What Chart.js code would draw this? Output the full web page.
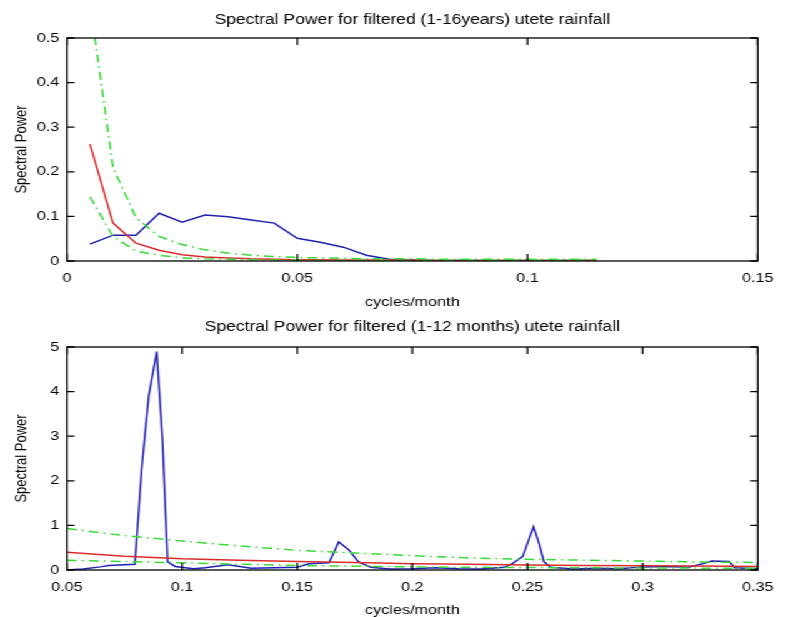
<!DOCTYPE html>
<html>
<head>
<meta charset="utf-8">
<script src="https://cdn.jsdelivr.net/npm/chart.js@4/dist/chart.umd.min.js"></script>
<style>
  html, body { margin: 0; padding: 0; background: #fff; }
  #stage {
    position: absolute; left: 0; top: 0;
    width: 629px; height: 617px;
    transform: scaleX(1.2496); transform-origin: 0 0;
  }
  #stage canvas { position: absolute; left: 0; }
  #topPlot { top: 0; }
  #bottomPlot { top: 300px; }
</style>
</head>
<body>
<div id="stage">
  <canvas id="topPlot" width="629" height="320"></canvas>
  <canvas id="bottomPlot" width="629" height="317"></canvas>
</div>
<script>
// ---- Upper panel: low-frequency band (1-16 years) ----
const topFreq = [0.005, 0.01, 0.015, 0.02, 0.025, 0.03, 0.035, 0.04, 0.045, 0.05,
                 0.055, 0.06, 0.065, 0.07, 0.075, 0.08, 0.085, 0.09, 0.095, 0.1,
                 0.105, 0.11, 0.115];
const topSpectrum = [0.038, 0.058, 0.058, 0.107, 0.087, 0.103, 0.099, 0.092, 0.085, 0.051,
                     0.042, 0.031, 0.013, 0.004, 0.002, 0.001, 0.001, 0.001, 0.001, 0.001,
                     0.001, 0.001, 0.001];
const topRedNoise = [0.262, 0.085, 0.040, 0.024, 0.014, 0.009, 0.007, 0.005, 0.004, 0.003,
                     0.003, 0.002, 0.002, 0.002, 0.002, 0.001, 0.001, 0.001, 0.001, 0.001,
                     0.001, 0.001, 0.001];
const topUpperBound = [0.58, 0.21, 0.097, 0.055, 0.037, 0.025, 0.018, 0.013, 0.010, 0.008,
                       0.007, 0.006, 0.005, 0.005, 0.005, 0.004, 0.004, 0.004, 0.004, 0.004,
                       0.004, 0.004, 0.004];
const topLowerBound = [0.144, 0.055, 0.022, 0.013, 0.007, 0.005, 0.004, 0.003, 0.002, 0.002,
                       0.001, 0.001, 0.001, 0.001, 0.001, 0.001, 0.001, 0.001, 0.001, 0.001,
                       0.001, 0.001, 0.001];
const topXTickLabels = ['0', '0.05', '0.1', '0.15'];
const topYTickLabels = ['0', '0.1', '0.2', '0.3', '0.4', '0.5'];

// ---- Lower panel: intra-annual band (1-12 months) ----
const bottomSpecFreq = [0.05, 0.057, 0.0645, 0.068, 0.0795, 0.0825, 0.0855, 0.089, 0.0915, 0.0937,
                        0.097, 0.105, 0.11, 0.12, 0.13, 0.14, 0.15, 0.155, 0.1638, 0.168,
                        0.1724, 0.1766, 0.182, 0.19, 0.2, 0.21, 0.22, 0.23, 0.24, 0.2436,
                        0.2479, 0.2526, 0.255, 0.2571, 0.26, 0.27, 0.28, 0.29, 0.3, 0.31,
                        0.32, 0.3276, 0.33, 0.3376, 0.34, 0.35];
const bottomSpectrum = [0.0, 0.02, 0.07, 0.10, 0.13, 2.3, 3.9, 4.9, 2.9, 0.18,
                        0.08, 0.03, 0.05, 0.12, 0.04, 0.05, 0.06, 0.14, 0.16, 0.63,
                        0.45, 0.18, 0.06, 0.02, 0.03, 0.05, 0.03, 0.02, 0.06, 0.15,
                        0.30, 0.97, 0.60, 0.19, 0.06, 0.02, 0.04, 0.03, 0.07, 0.08,
                        0.06, 0.16, 0.20, 0.19, 0.05, 0.03];
const bottomRefFreq = [0.05, 0.075, 0.1, 0.125, 0.15, 0.175, 0.2, 0.225, 0.25, 0.275, 0.3, 0.325, 0.35];
const bottomRedNoise = [0.40, 0.31, 0.25, 0.22, 0.19, 0.17, 0.14, 0.13, 0.11, 0.10, 0.095, 0.09, 0.08];
const bottomUpperBound = [0.93, 0.77, 0.65, 0.54, 0.44, 0.38, 0.32, 0.27, 0.24, 0.22, 0.20, 0.18, 0.17];
const bottomLowerBound = [0.22, 0.19, 0.16, 0.13, 0.10, 0.085, 0.07, 0.06, 0.055, 0.05, 0.045, 0.042, 0.04];
const bottomXTickLabels = ['0.05', '0.1', '0.15', '0.2', '0.25', '0.3', '0.35'];
const bottomYTickLabels = ['0', '1', '2', '3', '4', '5'];

const BLUE = '#2020b4';
const RED = '#d82c2c';
const GREEN = '#38da38';
const DASH_DOT = [8, 4, 1.5, 4];

Chart.defaults.font.family = '"Liberation Sans", Arial, Helvetica, sans-serif';
Chart.defaults.font.size = 13;
Chart.defaults.color = '#000';

const pairs = (xs, ys) => xs.map((x, i) => ({ x, y: ys[i] }));

function series(xs, ys, color, dashed, order) {
  return {
    data: pairs(xs, ys),
    borderColor: color,
    borderWidth: 1.5,
    borderDash: dashed ? DASH_DOT : [],
    pointRadius: 0,
    tension: 0,
    fill: false,
    order
  };
}

// MATLAB-style closed axes box with inward tick marks on all four sides
const axesBox = {
  id: 'axesBox',
  afterDatasetsDraw(chart) {
    const { ctx, chartArea: a, scales: { x, y } } = chart;
    ctx.save();
    ctx.strokeStyle = '#000';
    ctx.lineWidth = 1.3;
    ctx.strokeRect(a.left, a.top, a.width, a.height);
    ctx.beginPath();
    x.ticks.forEach(t => {
      const px = x.getPixelForValue(t.value);
      ctx.moveTo(px, a.bottom); ctx.lineTo(px, a.bottom - 7);
      ctx.moveTo(px, a.top); ctx.lineTo(px, a.top + 7);
    });
    y.ticks.forEach(t => {
      const py = y.getPixelForValue(t.value);
      ctx.moveTo(a.left, py); ctx.lineTo(a.left + 6, py);
      ctx.moveTo(a.right, py); ctx.lineTo(a.right - 6, py);
    });
    ctx.stroke();
    ctx.restore();
  }
};

function makePanel(canvasId, cfg) {
  return new Chart(document.getElementById(canvasId), {
    type: 'line',
    data: { datasets: cfg.datasets },
    options: {
      responsive: false,
      animation: false,
      events: [],
      layout: { padding: { left: 0, right: 14.2, top: 0, bottom: 0 } },
      plugins: {
        legend: { display: false },
        tooltip: { enabled: false },
        title: {
          display: true,
          text: cfg.title,
          fullSize: false,
          color: '#000',
          font: { size: 14, weight: 'normal', lineHeight: 1.2 },
          padding: { top: cfg.titleTop, bottom: cfg.titleGap }
        }
      },
      scales: {
        x: {
          type: 'linear',
          min: cfg.xMin, max: cfg.xMax,
          grid: { display: false, drawTicks: false },
          border: { display: false },
          ticks: {
            stepSize: cfg.xStep,
            padding: 10,
            maxRotation: 0,
            autoSkip: false,
            callback: (v, i) => cfg.xLabels[i]
          },
          title: {
            display: true, text: 'cycles/month',
            font: { size: 13, lineHeight: 1.0 },
            padding: { top: 0, bottom: cfg.xTitlePad }
          },
          afterFit: s => { s.height = cfg.xAxisHeight; }
        },
        y: {
          type: 'linear',
          min: cfg.yMin, max: cfg.yMax,
          grid: { display: false, drawTicks: false },
          border: { display: false },
          ticks: {
            stepSize: cfg.yStep,
            padding: 6,
            autoSkip: false,
            callback: (v, i) => cfg.yLabels[i]
          },
          title: {
            display: true, text: 'Spectral Power',
            font: { size: 13, lineHeight: 1.2 },
            padding: { top: 9.8, bottom: 0 }
          },
          afterFit: s => { s.width = 53.6; }
        }
      }
    },
    plugins: [axesBox]
  });
}

makePanel('topPlot', {
  title: 'Spectral Power for filtered (1-16years) utete rainfall',
  titleTop: 11.6, titleGap: 9.6,
  xMin: 0, xMax: 0.15, xStep: 0.05, xLabels: topXTickLabels,
  yMin: 0, yMax: 0.5, yStep: 0.1, yLabels: topYTickLabels,
  xTitlePad: 11.5, xAxisHeight: 59,
  datasets: [
    series(topFreq, topSpectrum, BLUE, false, 4),
    series(topFreq, topRedNoise, RED, false, 3),
    series(topFreq, topUpperBound, GREEN, true, 2),
    series(topFreq, topLowerBound, GREEN, true, 1)
  ]
});

makePanel('bottomPlot', {
  title: 'Spectral Power for filtered (1-12 months) utete rainfall',
  titleTop: 18.6, titleGap: 11.6,
  xMin: 0.05, xMax: 0.35, xStep: 0.05, xLabels: bottomXTickLabels,
  yMin: 0, yMax: 5, yStep: 1, yLabels: bottomYTickLabels,
  xTitlePad: 0, xAxisHeight: 47,
  datasets: [
    series(bottomSpecFreq, bottomSpectrum, BLUE, false, 4),
    series(bottomRefFreq, bottomRedNoise, RED, false, 3),
    series(bottomRefFreq, bottomUpperBound, GREEN, true, 2),
    series(bottomRefFreq, bottomLowerBound, GREEN, true, 1)
  ]
});
</script>
</body>
</html>
